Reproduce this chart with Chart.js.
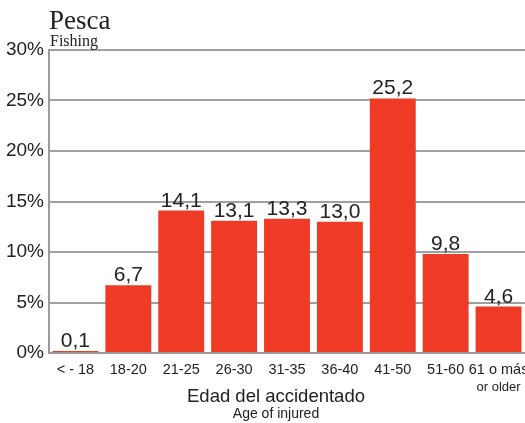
<!DOCTYPE html>
<html>
<head>
<meta charset="utf-8">
<script src="https://cdn.jsdelivr.net/npm/chart.js@4"></script>
<style>
  body { margin: 0; background: #fff; }
  #wrap { width: 525px; height: 423px; }
</style>
</head>
<body>
<div id="wrap"><canvas id="chart-pesca" width="525" height="423"></canvas></div>
<script>
// data
const ageGroups = ["< - 18", "18-20", "21-25", "26-30", "31-35", "36-40", "41-50", "51-60", "61 o más"];
const percentValues = [0.1, 6.7, 14.1, 13.1, 13.3, 13.0, 25.2, 9.8, 4.6];
const titleText = "Pesca";
const subtitleText = "Fishing";
const xTitle = "Edad del accidentado";
const xSubtitle = "Age of injured";
const lastExtra = "or older";

const sans = "'Liberation Sans', Arial, sans-serif";
const serif = "'Liberation Serif', serif";

const extraText = {
  id: "extraText",
  afterDraw(chart) {
    const ctx = chart.ctx;
    const x = chart.scales.x;
    ctx.save();
    // title
    ctx.fillStyle = "#222";
    ctx.textAlign = "left";
    ctx.textBaseline = "alphabetic";
    ctx.font = "27px " + serif;
    ctx.fillText(titleText, 49, 29);
    ctx.font = "16px " + serif;
    ctx.fillText(subtitleText, 50, 46);

    // values above bars
    const meta = chart.getDatasetMeta(0);
    ctx.font = "21px " + sans;
    ctx.textAlign = "center";
    meta.data.forEach((bar, i) => {
      ctx.fillText(percentValues[i].toFixed(1).replace(".", ","), bar.x, bar.y - 4);
    });

    // second line of last tick
    ctx.font = "13px " + sans;
    ctx.fillText(lastExtra, x.getPixelForValue(ageGroups.length - 1), 391);

    // axis title
    const cx = 276;
    ctx.font = "18.5px " + sans;
    ctx.fillText(xTitle, cx, 402);
    ctx.font = "14px " + sans;
    ctx.fillText(xSubtitle, cx, 418);
    ctx.restore();
  },
};

const ctx = document.getElementById("chart-pesca").getContext("2d");
const pescaChart = new Chart(ctx, {
  type: "bar",
  data: {
    labels: ageGroups,
    datasets: [
      {
        label: titleText,
        data: percentValues,
        backgroundColor: "#ef3b25",
        borderWidth: 0,
        minBarLength: 2,
        categoryPercentage: 1,
        barPercentage: 0.868,
      },
    ],
  },
  options: {
    responsive: false,
    animation: false,
    layout: { padding: { top: 50, right: -1, left: 0, bottom: 0 } },
    plugins: {
      legend: { display: false },
      tooltip: { enabled: false },
    },
    scales: {
      x: {
        grid: { display: false, drawTicks: false },
        border: { color: "#9a9a9a", width: 2 },
        ticks: {
          color: "#222",
          font: { family: sans, size: 14.5 },
          padding: 8,
          maxRotation: 0,
          autoSkip: false,
        },
        afterFit: (scale) => {
          scale.height = 70;
          scale.paddingLeft = 0;
          scale.paddingRight = 0;
        },
      },
      y: {
        min: 0,
        max: 30,
        grid: {
          drawTicks: false,
          color: (c) => (c.tick && c.tick.value % 5 === 0 ? "#a0a0a0" : "#c4c4c4"),
          lineWidth: (c) => (c.tick && c.tick.value % 5 === 0 ? 2 : 1),
        },
        border: { color: "#9a9a9a", width: 2 },
        ticks: {
          stepSize: 2.5,
          color: "#222",
          font: { family: sans, size: 19 },
          padding: 5,
          callback: (v) => (v % 5 === 0 ? v + "%" : ""),
        },
        afterFit: (scale) => { scale.width = 49; },
      },
    },
  },
  plugins: [extraText],
});
</script>
</body>
</html>
